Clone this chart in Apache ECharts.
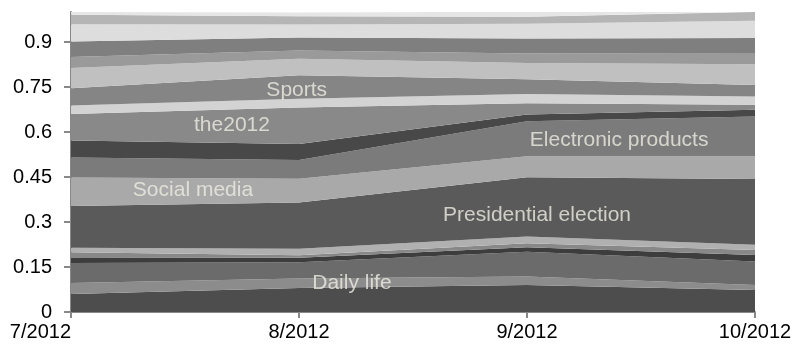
<!DOCTYPE html>
<html><head><meta charset="utf-8">
<script src="https://cdn.jsdelivr.net/npm/echarts@6/dist/echarts.min.js"></script>
<style>html,body{margin:0;padding:0;background:#fff}#c{width:795px;height:350px}</style>
</head><body><div id="c"></div>
<script>
// Categories (months) and y-axis tick labels
const categories = ['7/2012', '8/2012', '9/2012', '10/2012'];
const yTicks = [0, 0.15, 0.3, 0.45, 0.6, 0.75, 0.9];

// Series values (shares, stacked bottom -> top)
const s01 = [0.060, 0.080, 0.090, 0.073];
const s02DailyLife = [0.037, 0.032, 0.028, 0.017];
const s03 = [0.066, 0.054, 0.083, 0.078];
const s04 = [0.017, 0.015, 0.015, 0.022];
const s05 = [0.019, 0.008, 0.013, 0.017];
const s06 = [0.015, 0.022, 0.023, 0.017];
const s07Presidential = [0.139, 0.154, 0.197, 0.219];
const s08SocialMedia = [0.095, 0.079, 0.070, 0.076];
const s09Electronic = [0.067, 0.063, 0.117, 0.133];
const s10 = [0.057, 0.053, 0.022, 0.022];
const s11The2012 = [0.088, 0.122, 0.038, 0.017];
const s12 = [0.028, 0.029, 0.031, 0.027];
const s13Sports = [0.058, 0.078, 0.049, 0.039];
const s14 = [0.067, 0.055, 0.054, 0.069];
const s15 = [0.037, 0.028, 0.032, 0.035];
const s16 = [0.052, 0.043, 0.050, 0.052];
const s17 = [0.057, 0.043, 0.049, 0.058];
const s18 = [0.032, 0.028, 0.023, 0.029];
const s19 = [0.009, 0.012, 0.017, 0.002];

const seriesNames = ['Topic 1', 'Daily life', 'Topic 3', 'Topic 4', 'Topic 5', 'Topic 6',
  'Presidential election', 'Social media', 'Electronic products', 'Topic 10', 'the2012',
  'Topic 12', 'Sports', 'Topic 14', 'Topic 15', 'Topic 16', 'Topic 17', 'Topic 18', 'Topic 19'];
const seriesValues = [s01, s02DailyLife, s03, s04, s05, s06, s07Presidential, s08SocialMedia,
  s09Electronic, s10, s11The2012, s12, s13Sports, s14, s15, s16, s17, s18, s19];

// Annotation texts and their anchor (x in category units, y in value units)
const annoTexts = ['Sports', 'the2012', 'Social media', 'Presidential election', 'Electronic products', 'Daily life'];
const annoX = [0.99, 0.706, 0.535, 2.044, 2.404, 1.232];
const annoY = [0.74, 0.623, 0.407, 0.323, 0.573, 0.097];

const colors = ['#4d4d4d', '#8c8c8c', '#6b6b6b', '#3d3d3d', '#888888', '#b0b0b0',
  '#5a5a5a', '#a9a9a9', '#7b7b7b', '#484848', '#898989', '#d3d3d3', '#858585',
  '#c0c0c0', '#9a9a9a', '#7f7f7f', '#dddddd', '#b5b5b5', '#e6e6e6'];

const FONT = "'Liberation Sans', Arial, sans-serif";
const chart = echarts.init(document.getElementById('c'), null, {renderer: 'canvas'});

const series = seriesValues.map((vals, i) => ({
  name: seriesNames[i],
  type: 'line',
  stack: 'total',
  data: vals,
  symbol: 'none',
  lineStyle: {width: 0},
  areaStyle: {color: colors[i], opacity: 1},
  itemStyle: {color: colors[i]},
  silent: true,
  z: 2
}));

series.push({
  type: 'scatter',
  xAxisIndex: 1,
  yAxisIndex: 0,
  symbolSize: 0,
  silent: true,
  z: 5,
  data: annoTexts.map((t, i) => [annoX[i], annoY[i], t]),
  label: {
    show: true,
    position: 'inside',
    formatter: p => p.data[2],
    color: '#eeece2',
    fontSize: 21,
    fontFamily: FONT
  }
});

chart.setOption({
  animation: false,
  backgroundColor: '#ffffff',
  grid: {left: 71, right: 40, top: 12, bottom: 38, containLabel: false},
  xAxis: [{
    type: 'category',
    data: categories,
    boundaryGap: false,
    axisLine: {show: true, lineStyle: {color: '#888888', width: 2}},
    axisTick: {show: true, alignWithLabel: true, length: 6, lineStyle: {color: '#888888', width: 2}},
    axisLabel: {color: '#000', fontSize: 20, fontFamily: FONT, margin: 10,
      alignMinLabel: 'right', alignMaxLabel: 'center'},
    splitLine: {show: false}
  }, {
    type: 'value', min: 0, max: 3, show: false
  }],
  yAxis: {
    type: 'value',
    min: 0, max: 1,
    axisLine: {show: true, lineStyle: {color: '#888888', width: 2}},
    axisTick: {show: true, length: 7, lineStyle: {color: '#888888', width: 2}, customValues: yTicks},
    axisLabel: {color: '#000', fontSize: 20, fontFamily: FONT, margin: 19, customValues: yTicks,
      formatter: v => String(v)},
    splitLine: {show: false}
  },
  series: series
});
</script></body></html>
